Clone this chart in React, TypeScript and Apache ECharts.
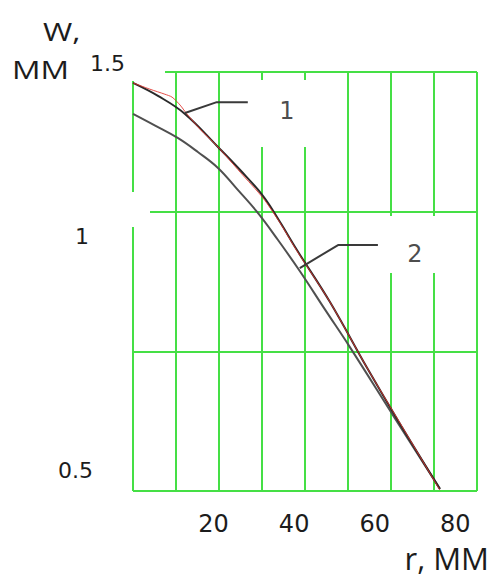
import React, { useEffect, useRef } from "react";
import * as echarts from "echarts";

// Curve 1 (black)
const r1 = [0, 6.2, 12.9, 21.1, 26.6, 32.3, 36.5, 40.7, 48.9, 58.1, 66.3, 76.2];
const w1 = [1.474, 1.443, 1.4, 1.321, 1.266, 1.204, 1.142, 1.075, 0.951, 0.794, 0.66, 0.505];
// Curve 1 (red, measured)
const rRed = [0, 4.2, 7.9, 9.7, 11.7, 13.2, 16.6, 21.1, 26.6, 32.3, 36.5, 40.7, 48.9, 58.1, 66.3, 76.2];
const wRed = [1.474, 1.459, 1.447, 1.44, 1.421, 1.402, 1.364, 1.321, 1.261, 1.199, 1.14, 1.073, 0.951, 0.794, 0.662, 0.502];
// Curve 2 (grey)
const r2 = [0, 5.5, 11.2, 16.1, 21.1, 25.8, 30.8, 36.0, 41.4, 47.6, 53.8, 65.0, 76.2];
const w2 = [1.4, 1.372, 1.342, 1.309, 1.271, 1.221, 1.166, 1.099, 1.025, 0.934, 0.844, 0.674, 0.505];

// Leader lines and their labels
const leader1R = [12.9, 20.8, 28.5];
const leader1W = [1.402, 1.428, 1.428];
const leader2R = [41.4, 50.9, 60.8];
const leader2W = [1.032, 1.087, 1.087];
const curveNames = ["1", "2"];
const curveLabelR = [38.2, 70.0];
const curveLabelW = [1.407, 1.066];

// Tick labels
const xTickValues = [20, 40, 60, 80];
const xTickLabels = ["20", "40", "60", "80"];
const yTickValues = [0.5, 1, 1.5];
const yTickLabels = ["0.5", "1", "1.5"];

const FONT = "Open Sans";
const NUMFONT = "DejaVu Sans";
const GREEN = "#45df45";
const TXT = "#1c1c1c";

const pairs = (xs: number[], ys: number[]) => xs.map((x, i) => [x, ys[i]]);

export default function App() {
  const ref = useRef<HTMLDivElement>(null);
  useEffect(() => {
    if (!ref.current) return;
    const chart = echarts.init(ref.current, undefined, { renderer: "svg" });
    const hiddenAxis = {
      axisLabel: { show: false },
      axisLine: { show: false },
      axisTick: { show: false },
    };
    const yRich = (pad: number[]) => ({ fontFamily: NUMFONT, fontSize: 22, color: TXT, padding: pad });
    chart.setOption({
      animation: false,
      backgroundColor: "#ffffff",
      grid: { left: 133, right: 19, top: 72, bottom: 87, containLabel: false },
      xAxis: [
        {
          type: "value",
          min: 0,
          max: 85.4,
          interval: 20,
          axisLine: { show: false },
          axisTick: { show: false },
          splitLine: { show: false },
          axisLabel: {
            margin: 21,
            fontFamily: NUMFONT,
            fontSize: 24,
            color: TXT,
            formatter: (v: number) => {
              const i = xTickValues.indexOf(Math.round(v));
              return i >= 0 && Math.abs(v - xTickValues[i]) < 1e-6 ? xTickLabels[i] : "";
            },
          },
        },
        {
          type: "value",
          min: 0,
          max: 8,
          interval: 1,
          position: "top",
          ...hiddenAxis,
          splitLine: { show: true, lineStyle: { color: GREEN, width: 2 } },
        },
      ],
      yAxis: [
        {
          type: "value",
          min: 0.5,
          max: 1.5,
          interval: 0.5,
          axisLine: { show: false },
          axisTick: { show: false },
          splitLine: { show: false },
          axisLabel: {
            margin: 8,
            fontFamily: NUMFONT,
            fontSize: 22,
            color: TXT,
            formatter: (v: number) => {
              const i = yTickValues.findIndex((t) => Math.abs(t - v) < 1e-6);
              return i >= 0 ? `{k${i}|${yTickLabels[i]}}` : "";
            },
            rich: {
              k0: yRich([0, 32, 42, 0]),
              k1: yRich([0, 36, 91, 0]),
              k2: yRich([0, 0, 18, 0]),
            },
          },
        },
        {
          type: "value",
          min: 0,
          max: 3,
          interval: 1,
          position: "right",
          ...hiddenAxis,
          splitLine: { show: true, lineStyle: { color: GREEN, width: 2 } },
        },
      ],
      graphic: [
        { type: "rect", z: 1, shape: { x: 128, y: 62, width: 37, height: 19 }, style: { fill: "#ffffff" } },
        { type: "rect", z: 1, shape: { x: 126, y: 192, width: 24, height: 35 }, style: { fill: "#ffffff" } },
        { type: "rect", z: 1, shape: { x: 255, y: 80, width: 60, height: 67 }, style: { fill: "#ffffff" } },
        { type: "rect", z: 1, shape: { x: 384, y: 216, width: 58, height: 57 }, style: { fill: "#ffffff" } },
        {
          type: "text", z: 5, x: 43, y: 31, scaleX: 1.22,
          style: { text: "W,", font: `26px "${FONT}"`, fill: TXT, textAlign: "left", textVerticalAlign: "middle" },
        },
        {
          type: "text", z: 5, x: 12, y: 69, scaleX: 1.22,
          style: { text: "MM", font: `26px "${FONT}"`, fill: TXT, textAlign: "left", textVerticalAlign: "middle" },
        },
        {
          type: "text", z: 5, x: 489, y: 558,
          style: { text: "r, MM", font: `31px "${FONT}"`, fill: TXT, textAlign: "right", textVerticalAlign: "middle" },
        },
      ],
      series: [
        {
          type: "line",
          name: "2",
          data: pairs(r2, w2),
          smooth: 0.4,
          symbol: "none",
          z: 3,
          lineStyle: { color: "#505050", width: 2 },
        },
        {
          type: "line",
          name: "1",
          data: pairs(r1, w1),
          smooth: 0.4,
          symbol: "none",
          z: 3,
          lineStyle: { color: "#2a2a2a", width: 2 },
        },
        {
          type: "line",
          name: "1 measured",
          data: pairs(rRed, wRed),
          smooth: 0.25,
          symbol: "none",
          z: 4,
          lineStyle: { color: "#e0302a", width: 1, opacity: 0.85 },
        },
        {
          type: "line",
          data: pairs(leader1R, leader1W),
          symbol: "none",
          z: 4,
          lineStyle: { color: "#3a3a3a", width: 2 },
        },
        {
          type: "line",
          data: pairs(leader2R, leader2W),
          symbol: "none",
          z: 4,
          lineStyle: { color: "#3a3a3a", width: 2 },
        },
        {
          type: "scatter",
          symbolSize: 0,
          z: 6,
          data: curveNames.map((n, i) => ({ name: n, value: [curveLabelR[i], curveLabelW[i]] })),
          label: {
            show: true,
            position: "inside",
            formatter: (p: any) => p.name,
            fontFamily: NUMFONT,
            fontSize: 24,
            color: TXT,
          },
        },
      ],
    });
    return () => chart.dispose();
  }, []);
  return <div ref={ref} style={{ width: 496, height: 578, position: "absolute", left: 0, top: 0 }} />;
}
